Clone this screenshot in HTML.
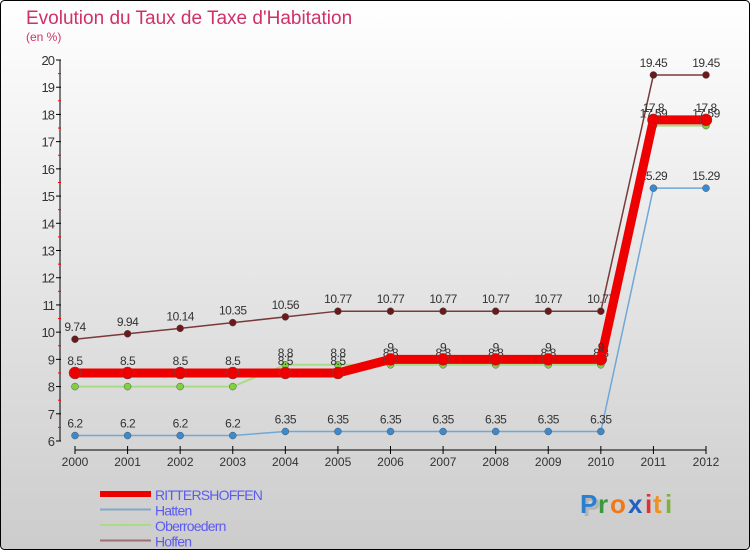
<!DOCTYPE html>
<html><head><meta charset="utf-8"><style>
html,body{margin:0;padding:0;width:750px;height:550px;overflow:hidden;font-family:"Liberation Sans",sans-serif}
</style></head><body>
<svg id="c" width="750" height="550" xmlns="http://www.w3.org/2000/svg">
<defs><linearGradient id="bg" x1="0" y1="0" x2="0" y2="1"><stop offset="0" stop-color="#ffffff"/><stop offset="1" stop-color="#cccccc"/></linearGradient></defs>
<rect x="0.5" y="0.5" width="749" height="549" rx="4" fill="url(#bg)" stroke="#000"/>
<text x="26" y="24" font-size="19" fill="#d0306a">Evolution du Taux de Taxe d'Habitation</text>
<text x="26" y="41" font-size="12" fill="#d0306a">(en %)</text>
<g id="axes"></g><g id="series"></g><g id="legend"></g>
<g font-size="26" font-weight="bold">
<text x="583" y="516" fill="#999" opacity="0.5">P</text>
<text x="580" y="513" fill="#2a7fd0">P</text><text x="598" y="513" fill="#3a9a3a">r</text><text x="610" y="513" fill="#f07818">o</text><text x="628" y="513" fill="#2060c0">x</text><text x="645" y="513" fill="#e03030">i</text><text x="653" y="513" fill="#f09020">t</text><text x="665" y="513" fill="#80b040">i</text>
</g>
</svg>
<script>
const years=[2000,2001,2002,2003,2004,2005,2006,2007,2008,2009,2010,2011,2012];
const ritt=[8.5,8.5,8.5,8.5,8.5,8.5,9,9,9,9,9,17.8,17.8];
const hatten=[6.2,6.2,6.2,6.2,6.35,6.35,6.35,6.35,6.35,6.35,6.35,15.29,15.29];
const ober=[8,8,8,8,8.8,8.8,8.8,8.8,8.8,8.8,8.8,17.59,17.59];
const hoffen=[9.74,9.94,10.14,10.35,10.56,10.77,10.77,10.77,10.77,10.77,10.77,19.45,19.45];
const yTicks=[6,7,8,9,10,11,12,13,14,15,16,17,18,19,20];
const NS="http://www.w3.org/2000/svg";
const xs=i=>75+i*(706-75)/12;
const ys=v=>441-(v-6)*(441-60)/14;
function mk(p,t,a){const e=document.createElementNS(NS,t);for(const k in a)e.setAttribute(k,a[k]);p.appendChild(e);return e;}
const ax=document.getElementById('axes');
let l=mk(ax,'line',{x1:60,y1:60,x2:60,y2:441,stroke:'#000'});

l=mk(ax,'line',{x1:75,y1:450,x2:706,y2:450,stroke:'#000'});

yTicks.forEach(v=>{
 mk(ax,'line',{x1:56,y1:ys(v),x2:61,y2:ys(v),stroke:'#000'});
 if(v<20)mk(ax,'line',{x1:58,y1:ys(v+0.5),x2:61,y2:ys(v+0.5),stroke:'#f00'});
 const t=mk(ax,'text',{x:54,y:ys(v)+5,'font-size':13,'text-anchor':'end',fill:'#333','letter-spacing':'-1'});
 t.textContent=v;
});
years.forEach((y,i)=>{
 mk(ax,'line',{x1:xs(i),y1:446,x2:xs(i),y2:454,stroke:'#000'});
 const t=mk(ax,'text',{x:xs(i),y:466,'font-size':12,'text-anchor':'middle',fill:'#333'});
 t.textContent=y;
});
const sg=document.getElementById('series');
function series(name,data,color,w,mcol,r,lab){
 const g=mk(sg,'g',{});
 
 mk(g,'polyline',{points:data.map((v,i)=>xs(i)+','+ys(v)).join(' '),fill:'none',stroke:color,'stroke-width':w,'stroke-linejoin':'round'});
 data.forEach((v,i)=>{
  const c=mk(g,'circle',{cx:xs(i),cy:ys(v),r:r,fill:mcol,stroke:'#555','stroke-width':0.5});
  
  if(lab){const t=mk(g,'text',{x:xs(i),y:ys(v)-8,'font-size':12,'text-anchor':'middle',fill:'#333','letter-spacing':'-0.5'});t.textContent=v;}
 });
}
series('oberroedern',ober,'#a8dc88',2,'#80d040',3.5,true);
series('hatten',hatten,'#6fa8d8',1.5,'#3a8ad0',3.5,true);
series('hoffen',hoffen,'#7a3a3a',1.5,'#6a1a1a',3.5,true);
series('rittershoffen',ritt,'#ee0000',9,'#ee0000',6,true);
const lg=document.getElementById('legend');
const items=[['RITTERSHOFFEN','#ee0000',6],['Hatten','#80a8c8',2],['Oberroedern','#a8dc88',2],['Hoffen','#a07070',2]];
items.forEach((it,k)=>{
 const y=497+k*15.5;
 const g=mk(lg,'g',{});
 
 mk(g,'line',{x1:100,y1:y-3,x2:151,y2:y-3,stroke:it[1],'stroke-width':it[2]});
 const t=mk(g,'text',{x:155,y:y+3,'font-size':14,fill:'#5b5bf0','letter-spacing':'-0.8'});t.textContent=it[0];
});
</script>
</body></html>
